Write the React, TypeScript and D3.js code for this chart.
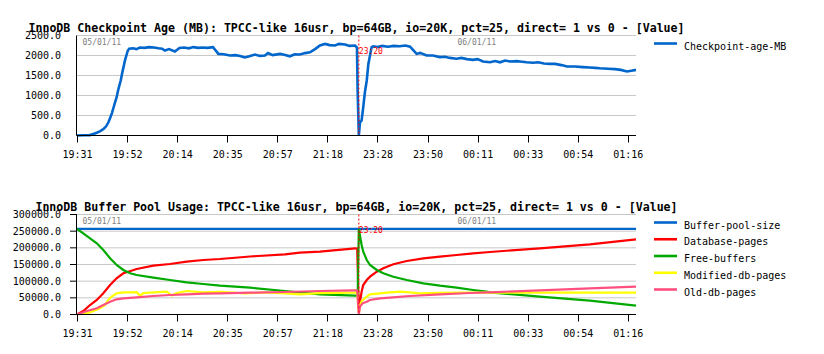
import { useEffect, useRef } from 'react';
import * as d3 from 'd3';

type Pt = [number, number]; // [minutes on the plotted axis, value]

const tickLabels = ['19:31', '19:52', '20:14', '20:35', '20:57', '21:18', '23:28', '23:50', '00:11', '00:33', '00:54', '01:16'];
const tickStep = 21.5; // minutes between two labels
const tMax = 240;
const restartT = 121; // second run starts at 23:20
const dateMarks: Pt[] = [[0, 0], [161, 1]];
const dateLabels = ['05/01/11', '06/01/11'];

const checkpointAge: Pt[] = [
  [0, 0], [3, 5], [5.5, 10], [7, 40], [8.5, 70], [10, 110], [11.5, 170], [12.5, 230], [13.5, 330], [14.3, 450],
  [15, 560], [15.7, 700], [16.3, 820], [17, 950], [17.6, 1120], [18.2, 1250], [18.8, 1380], [19.4, 1560], [20, 1720],
  [20.6, 1880], [21.2, 2000], [21.8, 2120], [22.4, 2170], [24, 2180], [25.5, 2160], [27, 2200], [29, 2190], [31, 2210],
  [33, 2200], [35, 2180], [36.5, 2170], [37.8, 2125], [39.5, 2160], [42, 2100], [44, 2190], [46, 2200], [48, 2180],
  [50, 2210], [52, 2190], [54, 2200], [56, 2190], [58.4, 2210], [59.2, 2150], [60.7, 2040], [63, 2030], [65.7, 2000],
  [68, 2010], [70, 1990], [72.1, 1950], [74, 1980], [76.4, 2025], [78.5, 1990], [80.7, 2000], [82, 2060], [84, 2010],
  [87.2, 2040], [89, 2020], [91.4, 1980], [93.5, 2030], [95.7, 2025], [97.9, 2060], [100, 2080], [102.2, 2160],
  [104.3, 2250], [106.5, 2290], [108.5, 2260], [110.8, 2250], [112.5, 2290], [115.1, 2275], [117, 2240], [119.4, 2250],
  [120.2, 2200], [120.5, 1080], [121, 0], [121.5, 330], [122.2, 375], [122.9, 710], [123.6, 1080], [124.4, 1375],
  [125.1, 1790], [125.8, 2000], [126.5, 2210], [127.2, 2230], [129, 2210], [131, 2240], [133.5, 2220], [136, 2240],
  [138.5, 2230], [141, 2250], [143, 2220], [145.8, 2040], [147.3, 2065], [150.1, 2000], [152.8, 2000], [155.8, 1960],
  [158, 1970], [160.1, 1940], [163, 1920], [165, 1940], [167.4, 1910], [170, 1890], [172, 1910], [174.3, 1850],
  [177.3, 1830], [179.5, 1860], [181.6, 1830], [183.8, 1875], [186, 1850], [188.9, 1860], [190.2, 1850], [193, 1830],
  [195.8, 1820], [198, 1830], [200.5, 1800], [203.1, 1790], [205.2, 1790], [208, 1760], [210.4, 1725], [213.8, 1725],
  [217.2, 1710], [220, 1700], [222.4, 1690], [224.5, 1680], [228, 1670], [231, 1660], [233.5, 1640], [236.1, 1600],
  [238, 1620], [240, 1640],
];

const bufferPoolSize: Pt[] = [[0, 257000], [240, 257000]];

const databasePages: Pt[] = [
  [0, 0], [2.7, 10500], [5.6, 28500], [8.5, 43500], [11.3, 63600], [14.2, 88500], [17, 108600], [19.9, 123600],
  [22, 128400], [25.6, 136500], [32.8, 146400], [39.9, 151500], [47.1, 158400], [54.2, 163500], [61.4, 166500],
  [74.3, 174000], [89.3, 180600], [95.7, 185400], [104.3, 188500], [119.4, 198600], [120.3, 198000], [121, 15000],
  [121.5, 38400], [122.2, 68400], [122.9, 88500], [124.4, 103500], [125.8, 113400], [128.7, 128400], [131.5, 138600],
  [135.8, 150600], [141.6, 160500], [148.7, 168600], [155.8, 173400], [163, 178500], [170.1, 183600], [177.3, 187500],
  [198.7, 198600], [220.2, 210600], [240, 225600],
];

const freeBuffers: Pt[] = [
  [0, 256500], [2.7, 243600], [5.6, 228600], [8.5, 213600], [11.3, 193500], [14.2, 168600], [17, 148500],
  [19.9, 133500], [22.8, 123600], [25.6, 118500], [32.8, 110400], [39.9, 103500], [47.1, 96600], [54.2, 91500],
  [61.4, 86400], [74.3, 80400], [89.3, 70500], [104.3, 60600], [119.4, 56400], [120.5, 56000], [121, 256500],
  [122.2, 208500], [122.9, 188400], [124.4, 163500], [125.8, 148500], [128.7, 133500], [131.5, 123600],
  [135.8, 113400], [141.6, 103500], [148.7, 93600], [155.8, 86400], [163, 80400], [170.1, 73500], [175.8, 68400],
  [177.3, 66600], [198.7, 53400], [220.2, 41400], [240, 26400],
];

const modifiedDbPages: Pt[] = [
  [0, 0], [4.3, 3600], [7.1, 10500], [9.9, 18600], [12, 28500], [13.4, 43500], [14.9, 53400], [17, 63600],
  [19.9, 66600], [22.8, 66600], [25.6, 67000], [27.1, 56400], [28.5, 64000], [32.8, 66600], [38.6, 68400],
  [40.7, 57000], [42.8, 64000], [47.1, 70500], [54.2, 66600], [61.4, 68000], [67, 66000], [72, 63000], [80, 66000],
  [89, 63600], [95.7, 60600], [104, 64000], [112, 65000], [120.3, 66000], [121, 5000], [121.5, 28500], [122.2, 40000],
  [124.4, 53400], [125.8, 60600], [130, 63600], [134.3, 66600], [138.6, 68400], [142.9, 66600], [147.2, 63600],
  [155, 65000], [165, 65500], [240, 65500],
];

const oldDbPages: Pt[] = [
  [0, 0], [4.3, 10500], [8.5, 18600], [11.3, 28500], [14.2, 38400], [17, 45600], [19.9, 48600], [25.6, 51600],
  [32.8, 55500], [39.9, 58500], [47.1, 60600], [54.2, 62400], [61.4, 63600], [74.3, 65400], [89.3, 67500],
  [104.3, 70500], [119.4, 72600], [120.3, 72600], [121, 0], [121.5, 23400], [122.6, 33600], [124.4, 38400],
  [125.8, 43500], [130.1, 48600], [135.6, 51600], [142.9, 55500], [155.8, 60600], [168.7, 64500], [177.3, 66600],
  [198.7, 72600], [220.2, 78600], [240, 83400],
];

interface Series { name: string; color: string; width: number; data: Pt[] }
interface Panel {
  title: string; top: number; bottom: number; yMax: number; yStep: number; yTicks: boolean; series: Series[];
}

const panels: Panel[] = [
  {
    title: 'InnoDB Checkpoint Age (MB): TPCC-like 16usr, bp=64GB, io=20K, pct=25, direct= 1 vs 0 - [Value]',
    top: 35.5, bottom: 135.5, yMax: 2500, yStep: 500, yTicks: false,
    series: [{ name: 'Checkpoint-age-MB', color: '#0066cc', width: 2.6, data: checkpointAge }],
  },
  {
    title: 'InnoDB Buffer Pool Usage: TPCC-like 16usr, bp=64GB, io=20K, pct=25, direct= 1 vs 0 - [Value]',
    top: 214.5, bottom: 314.5, yMax: 300000, yStep: 50000, yTicks: true,
    series: [
      { name: 'Buffer-pool-size', color: '#0066cc', width: 2.2, data: bufferPoolSize },
      { name: 'Database-pages', color: '#ff0000', width: 2.2, data: databasePages },
      { name: 'Free-buffers', color: '#00aa00', width: 2.2, data: freeBuffers },
      { name: 'Modified-db-pages', color: '#ffff00', width: 2.2, data: modifiedDbPages },
      { name: 'Old-db-pages', color: '#ff4f80', width: 2.2, data: oldDbPages },
    ],
  },
];

const MONO = '"DejaVu Sans Mono", monospace';

export default function App() {
  const ref = useRef<SVGSVGElement | null>(null);
  useEffect(() => {
    const svg = d3.select(ref.current!);
    svg.selectAll('*').remove();
    const left = 77, right = 636;
    const x = d3.scaleLinear().domain([0, tMax]).range([left, right]);
    const fmt = d3.format('.1f');

    panels.forEach((p) => {
      const y = d3.scaleLinear().domain([0, p.yMax]).range([p.bottom, p.top]);
      const g = svg.append('g');
      const yVals = d3.range(0, p.yMax + 1, p.yStep);

      g.selectAll('line.grid').data(yVals.slice(1)).enter().append('line')
        .attr('x1', left).attr('x2', right).attr('y1', (d) => y(d)).attr('y2', (d) => y(d))
        .attr('stroke', '#c8c8c8').attr('stroke-width', 1);
      if (p.yTicks) {
        g.selectAll('line.ytick').data(yVals).enter().append('line')
          .attr('x1', left - 7).attr('x2', left).attr('y1', (d) => y(d)).attr('y2', (d) => y(d))
          .attr('stroke', '#000').attr('stroke-width', 1);
      }
      g.selectAll('text.ylab').data(yVals).enter().append('text')
        .attr('x', 61).attr('y', (d) => y(d)).attr('dy', '0.36em').attr('text-anchor', 'end')
        .attr('font-family', MONO).attr('font-size', 10).attr('fill', '#000').text((d) => fmt(d));

      // date labels and restart marker
      g.selectAll('text.date').data(dateMarks).enter().append('text')
        .attr('x', (d) => x(d[0]) + 5.5).attr('y', p.top + 9).attr('font-family', MONO).attr('font-size', 8)
        .attr('fill', '#808080').text((d) => dateLabels[d[1]]);

      const line = d3.line<Pt>().x((d) => x(d[0])).y((d) => y(d[1]));
      p.series.forEach((s) => {
        g.append('path').datum(s.data).attr('d', line).attr('fill', 'none')
          .attr('stroke', s.color).attr('stroke-width', s.width).attr('stroke-linejoin', 'miter');
      });

      g.append('line').attr('x1', x(restartT)).attr('x2', x(restartT)).attr('y1', p.top).attr('y2', p.bottom)
        .attr('stroke', '#ff0000').attr('stroke-width', 1).attr('stroke-dasharray', '2,2');
      g.append('text').attr('x', x(restartT)).attr('y', p.top + 18.5).attr('font-family', MONO).attr('font-size', 8)
        .attr('fill', '#ff0000').text('23:20');

      // axes
      g.append('line').attr('x1', 76.5).attr('x2', 76.5).attr('y1', p.top).attr('y2', p.bottom).attr('stroke', '#000');
      g.append('line').attr('x1', 76.5).attr('x2', right).attr('y1', p.bottom).attr('y2', p.bottom).attr('stroke', '#000');
      const tickT = tickLabels.map((_, i) => i * tickStep);
      g.selectAll('line.xtick').data(tickT).enter().append('line')
        .attr('x1', (d) => Math.round(x(d)) + 0.5).attr('x2', (d) => Math.round(x(d)) + 0.5)
        .attr('y1', p.bottom).attr('y2', p.bottom + 7).attr('stroke', '#000');
      g.selectAll('text.xlab').data(tickT).enter().append('text')
        .attr('x', (d) => x(d) + 0.5).attr('y', p.bottom + 22).attr('text-anchor', 'middle')
        .attr('font-family', MONO).attr('font-size', 10).attr('fill', '#000').text((_, i) => tickLabels[i]);

      g.append('text').attr('x', (left + right) / 2).attr('y', p.top - 3.8).attr('text-anchor', 'middle')
        .attr('font-family', MONO).attr('font-weight', 'bold').attr('font-size', 11.6).attr('fill', '#000').text(p.title);

      // legend
      p.series.forEach((s, i) => {
        const ly = p.top + 8 + i * 16.75;
        g.append('line').attr('x1', 654).attr('x2', 677).attr('y1', ly).attr('y2', ly)
          .attr('stroke', s.color).attr('stroke-width', 2.6);
        g.append('text').attr('x', 684).attr('y', ly + 6.2).attr('font-family', MONO).attr('font-size', 10)
          .attr('fill', '#000').text(s.name);
      });
    });
  }, []);
  return <svg ref={ref} width={824} height={354} style={{ position: 'absolute', left: 0, top: 0, background: '#fff' }} />;
}
